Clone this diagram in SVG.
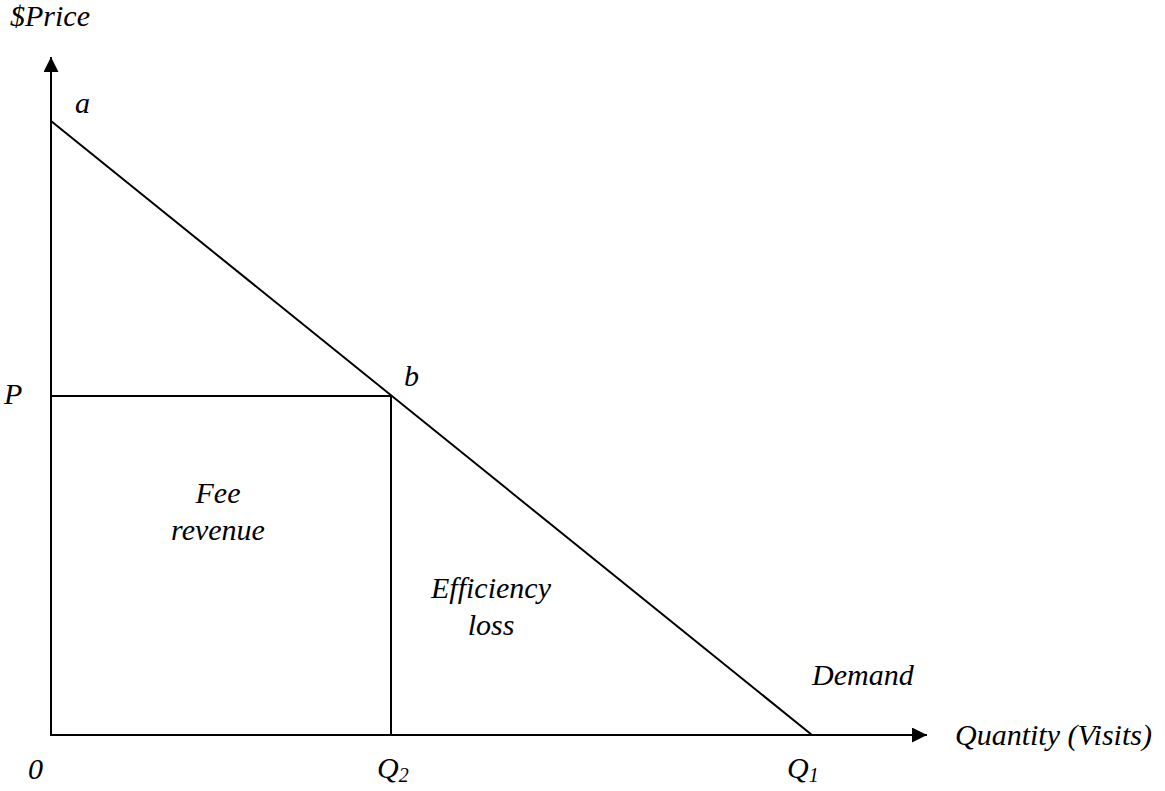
<svg xmlns="http://www.w3.org/2000/svg" width="1165" height="791" viewBox="0 0 1165 791">
<style>
text{font-family:"Liberation Serif","Times New Roman",serif;font-style:italic;font-size:30px;fill:#000}
.ln{stroke:#000;stroke-width:2;fill:none}
.sub{font-size:20px}
</style>
<defs>
<marker id="ah" viewBox="0 0 10 10" refX="10" refY="5" markerWidth="15" markerHeight="15" markerUnits="userSpaceOnUse" orient="auto">
<path d="M0,0 L10,5 L0,10 Z" fill="#000"/>
</marker>
</defs>
<rect width="1165" height="791" fill="#fff"/>
<g id="connectors">
<line class="ln" x1="51" y1="736" x2="51" y2="57" marker-end="url(#ah)"/>
<line class="ln" x1="50" y1="735" x2="927" y2="735" marker-end="url(#ah)"/>
<line class="ln" x1="51" y1="121" x2="812" y2="735"/>
<line class="ln" x1="51" y1="396" x2="391" y2="396"/>
<line class="ln" x1="391" y1="396" x2="391" y2="735"/>
</g>
<g id="labels">
<text x="10" y="26">$Price</text>
<text x="75" y="113">a</text>
<text x="404" y="386">b</text>
<text x="4" y="404">P</text>
<text x="28" y="779">0</text>
<text x="377" y="778">Q<tspan class="sub" dy="4">2</tspan></text>
<text x="787" y="778">Q<tspan class="sub" dy="4">1</tspan></text>
<text x="218" y="503" text-anchor="middle">Fee</text>
<text x="218" y="540" text-anchor="middle">revenue</text>
<text x="491" y="598" text-anchor="middle">Efficiency</text>
<text x="491" y="635" text-anchor="middle">loss</text>
<text x="812" y="685">Demand</text>
<text x="955" y="745">Quantity (Visits)</text>
</g>
</svg>
